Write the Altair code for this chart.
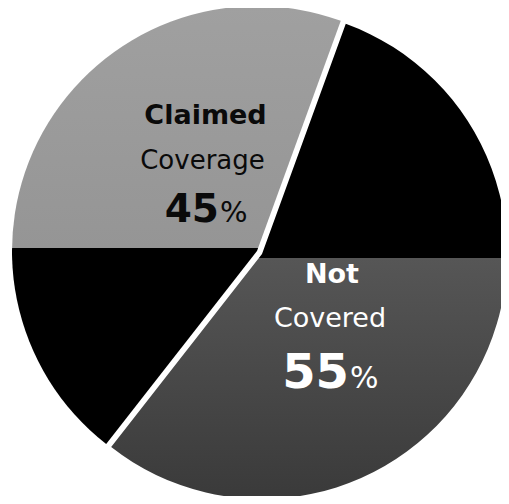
import math
import altair as alt
import pandas as pd

# ---- data ----
categories = ["Not Covered", "Claimed Coverage"]
values = [55, 45]

# ---- layout / style (not data) ----
W, H = 493, 488
R = 245
START_DEG = 20
# slice centres (chart coords) – slight explosion
centers = {"Not Covered": (262 - 8, 254 - 8), "Claimed Coverage": (257 - 8, 251 - 8)}
# y (chart coords) where the fill turns from one tone to the other
split_y = {"Not Covered": 258 - 8, "Claimed Coverage": 248 - 8}
tones = {
    "Not Covered": [("#000000", "#000000"), ("#565656", "#3a3a3a")],   # black top, grey bottom
    "Claimed Coverage": [("#a0a0a0", "#959595"), ("#000000", "#000000")],  # grey top, black bottom
}

df = pd.DataFrame({"category": categories, "value": values})
df["end"] = df["value"].cumsum()
df["start"] = df["end"] - df["value"]
total = float(sum(values))

s_rad = math.radians(START_DEG)
theta_scale = alt.Scale(domain=[0, total], range=[s_rad, s_rad + 2 * math.pi])


def slice_bbox_y(cat):
    row = df[df.category == cat].iloc[0]
    a0 = START_DEG + 360 * row["start"] / total
    a1 = START_DEG + 360 * row["end"] / total
    cx, cy = centers[cat]
    ys = [cy]
    n = 2000
    for k in range(n + 1):
        a = math.radians(a0 + (a1 - a0) * k / n)
        ys.append(cy - R * math.cos(a))
    return min(ys), max(ys)


layers = []
for cat in categories:
    top, bot = slice_bbox_y(cat)
    f = (split_y[cat] - top) / (bot - top)
    f = min(max(f, 0.0), 1.0)
    (c0, c1), (c2, c3) = tones[cat]
    grad = alt.LinearGradient(
        gradient="linear",
        x1=0, x2=0, y1=0, y2=1,
        stops=[
            alt.GradientStop(offset=0, color=c0),
            alt.GradientStop(offset=f, color=c1),
            alt.GradientStop(offset=f, color=c2),
            alt.GradientStop(offset=1, color=c3),
        ],
    )
    cx, cy = centers[cat]
    layers.append(
        alt.Chart(df)
        .transform_filter(alt.datum.category == cat)
        .mark_arc(radius=R, x=cx, y=cy, fill=grad)
        .encode(
            theta=alt.Theta("start:Q", scale=theta_scale),
            theta2="end:Q",
        )
    )

# ---- labels (text derived from the data arrays) ----
lab = pd.DataFrame({
    "category": categories,
    "w1": [c.split(" ")[0] for c in categories],
    "w2": [" ".join(c.split(" ")[1:]) for c in categories],
    "num": [str(v) for v in values],
    "pct": ["%" for _ in values],
})

label_style = {
    "Claimed Coverage": dict(color="#0a0a0a",
                             w1=(205.5 - 8, 124 - 8, 27),
                             w2=(202.5 - 8, 169 - 8, 26),
                             num=(219 - 8, 222 - 8, 39),
                             pct=(220 - 8, 222 - 8, 29)),
    "Not Covered": dict(color="#ffffff",
                        w1=(332 - 8, 283 - 8, 27),
                        w2=(330 - 8, 327 - 8, 27),
                        num=(349 - 8, 388 - 8, 48),
                        pct=(350 - 8, 388 - 8, 30)),
}

FONT = "DejaVu Sans"
for cat in categories:
    st = label_style[cat]
    base = alt.Chart(lab).transform_filter(alt.datum.category == cat)
    for field, weight, align in [("w1", "bold", "center"), ("w2", "normal", "center"),
                                 ("num", "bold", "right"), ("pct", "normal", "left")]:
        x, y, size = st[field]
        layers.append(
            base.mark_text(
                x=x, y=y, align=align, baseline="alphabetic",
                font=FONT, fontSize=size, fontWeight=weight, color=st["color"],
            ).encode(text=f"{field}:N")
        )

chart = (
    alt.layer(*layers)
    .properties(width=W, height=H, padding=0, autosize=alt.AutoSizeParams(type="none"),
                background="#ffffff")
    .configure_view(strokeWidth=0)
)

chart.save("out.html", embed_options={"renderer": "svg", "actions": False})
